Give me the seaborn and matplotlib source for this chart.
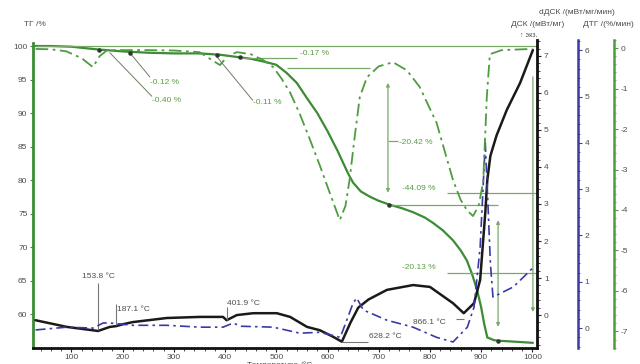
import matplotlib
matplotlib.use("Agg")
import matplotlib.pyplot as plt
import seaborn as sns
from matplotlib.ticker import MultipleLocator

# TG curve, mass in %
tg_temp = [30, 60, 100, 150, 200, 250, 300, 350, 390, 420, 450, 480, 500, 520, 540,
           560, 580, 600, 620, 640, 650, 665, 683, 700, 722, 745, 767, 790, 806, 825,
           845, 860, 872, 882, 892, 900, 906, 912, 925, 937, 960, 1001]
tg_mass = [100.0, 100.0, 99.9, 99.5, 99.2, 99.0, 98.9, 98.9, 98.7, 98.4, 98.1, 97.6,
           97.2, 96.0, 94.5, 92.2, 90.0, 87.3, 84.3, 81.0, 79.6, 78.3, 77.5, 76.9, 76.3,
           75.8, 75.2, 74.4, 73.6, 72.5, 71.0, 69.5, 68.0, 66.0, 63.6, 61.0, 58.5, 56.5,
           56.1, 56.0, 55.9, 55.7]

# DTG curve, %/min
dtg_temp = [30, 60, 90, 120, 142, 155, 170, 200, 250, 300, 350, 375, 390, 405, 423,
            450, 475, 494, 510, 527, 545, 566, 585, 605, 624, 635, 643, 653, 663, 677,
            700, 728, 755, 780, 813, 845, 860, 872, 884, 895, 904, 911, 917, 940, 1000]
dtg_rate = [-0.02, -0.03, -0.08, -0.25, -0.47, -0.2, -0.05, -0.05, -0.05, -0.06, -0.1,
            -0.3, -0.42, -0.2, -0.1, -0.15, -0.3, -0.47, -0.75, -1.1, -1.6, -2.27, -2.9,
            -3.6, -4.25, -3.9, -3.26, -2.2, -1.21, -0.72, -0.45, -0.35, -0.55, -0.96,
            -1.85, -3.26, -3.75, -4.0, -4.15, -3.9, -3.3, -1.2, -0.15, -0.05, -0.02]

# DSC curve, mW/mg
dsc_temp = [30, 91, 152, 175, 187, 200, 220, 286, 351, 396, 403, 423, 455, 501, 527,
            560, 585, 610, 628, 645, 660, 680, 716, 767, 800, 845, 866, 886, 898, 908,
            912, 918, 930, 950, 976, 1001]
dsc_val = [-0.14, -0.32, -0.43, -0.32, -0.3, -0.25, -0.19, -0.08, -0.05, -0.05, -0.14,
           0.0, 0.05, 0.05, -0.05, -0.32, -0.41, -0.58, -0.72, -0.2, 0.2, 0.42, 0.68,
           0.81, 0.76, 0.32, 0.05, 0.32, 0.95, 2.76, 3.65, 4.3, 4.85, 5.54, 6.27, 7.16]

# dDSC curve, mW/mg/min
ddsc_temp = [30, 91, 142, 162, 175, 220, 286, 351, 396, 416, 430, 494, 546, 585, 625,
             650, 657, 670, 716, 767, 813, 845, 873, 886, 898, 904, 908, 912, 918, 923,
             963, 1001]
ddsc_val = [-0.04, 0.02, 0.0, 0.11, 0.11, 0.06, 0.06, 0.02, 0.02, 0.11, 0.04, 0.02,
            -0.11, -0.09, -0.2, 0.54, 0.65, 0.39, 0.17, 0.02, -0.2, -0.3, 0.02, 0.45,
            1.75, 3.1, 4.0, 3.0, 1.4, 0.67, 0.89, 1.3]

temp_ticks = [100, 200, 300, 400, 500, 600, 700, 800, 900, 1000]
tg_ticks = [60, 65, 70, 75, 80, 85, 90, 95, 100]
dsc_ticks = [0, 1, 2, 3, 4, 5, 6, 7]
ddsc_ticks = [0, 1, 2, 3, 4, 5, 6]
dtg_ticks = [0, -1, -2, -3, -4, -5, -6, -7]

sns.set_style("white")
plt.rcParams['font.family'] = ['Liberation Sans', 'DejaVu Sans']
plt.rcParams['axes.unicode_minus'] = False

GREEN = '#3b8c34'
DTG_GREEN = '#4d9c3f'
BLUE = '#3a3aa6'
TXT_GREEN = '#5a9c44'
GRAY = '#4d4d4d'
FS = 6

fig = plt.figure(figsize=(6.4, 3.64), dpi=100)
ax = fig.add_axes([33 / 640, 16 / 364, 504 / 640, 308 / 364])
ax_dsc = ax.twinx()
ax_ddsc = ax.twinx()
ax_dtg = ax.twinx()

sns.lineplot(x=tg_temp, y=tg_mass, ax=ax, color=GREEN, lw=1.6, estimator=None, sort=False)
sns.lineplot(x=dtg_temp, y=dtg_rate, ax=ax_dtg, color=DTG_GREEN, lw=1.3,
             linestyle=(0, (7, 2.5, 1.5, 2.5)), estimator=None, sort=False)
sns.lineplot(x=ddsc_temp, y=ddsc_val, ax=ax_ddsc, color=BLUE, lw=1.2,
             linestyle=(0, (6, 2.5, 1.5, 2.5)), estimator=None, sort=False)
sns.lineplot(x=dsc_temp, y=dsc_val, ax=ax_dsc, color='#1a1a1a', lw=1.8,
             estimator=None, sort=False)

ax.set_xlim(25, 1009)
ax.set_ylim(54.93, 100.9)
ax_dsc.set_ylim(-0.89, 7.43)
ax_ddsc.set_ylim(-0.43, 6.22)
ax_dtg.set_ylim(-7.41, 0.2)

for a in (ax, ax_dsc, ax_ddsc, ax_dtg):
    for s in a.spines.values():
        s.set_visible(False)

ax.spines['left'].set_visible(True)
ax.spines['left'].set_color(GREEN)
ax.spines['left'].set_linewidth(2)
ax.spines['left'].set_bounds(54.93, 100.4)
ax.spines['bottom'].set_visible(True)
ax.spines['bottom'].set_color('#111111')
ax.spines['bottom'].set_linewidth(2)
ax.set_xticks(temp_ticks)
ax.xaxis.set_minor_locator(MultipleLocator(20))
ax.set_yticks(tg_ticks)
ax.tick_params(axis='x', which='major', length=3, width=0.8, labelsize=FS,
               labelcolor=GRAY, pad=1, bottom=True)
ax.tick_params(axis='x', which='minor', length=2, width=0.6, bottom=True)
ax.tick_params(axis='y', length=2, width=0.8, labelsize=FS, labelcolor=GRAY,
               color=GREEN, pad=2, left=True)
ax.set_xlabel('')
ax.set_ylabel('')

ax_dsc.spines['right'].set_visible(True)
ax_dsc.spines['right'].set_color('#111111')
ax_dsc.spines['right'].set_linewidth(2)
ax_dsc.set_yticks(dsc_ticks)
ax_dsc.yaxis.set_minor_locator(MultipleLocator(0.2))
ax_dsc.tick_params(axis='y', which='major', length=3, labelsize=FS, labelcolor=GRAY, pad=2)
ax_dsc.tick_params(axis='y', which='minor', length=2)
ax_dsc.set_ylabel('')

for a, pos, col, ticks in ((ax_ddsc, 1.081, BLUE, ddsc_ticks),
                           (ax_dtg, 1.153, DTG_GREEN, dtg_ticks)):
    a.spines['right'].set_visible(True)
    a.spines['right'].set_position(('axes', pos))
    a.spines['right'].set_color(col)
    a.spines['right'].set_linewidth(1.8)
    a.set_yticks(ticks)
    a.yaxis.set_minor_locator(MultipleLocator(0.2))
    a.tick_params(axis='y', which='major', length=3, color=col, labelsize=FS,
                  labelcolor=GRAY, pad=2)
    a.tick_params(axis='y', which='minor', length=1.5, color=col)
    a.set_ylabel('')

# mass-loss step construction lines (TG axis)
line_kw = dict(color='#7aa86a', lw=0.9)
ax.hlines(100.0, 30, 1009, **line_kw)
ax.hlines(98.2, 430, 540, **line_kw)
ax.hlines(96.7, 521, 683, **line_kw)
ax.hlines(78.1, 833, 1009, **line_kw)
ax.hlines(76.3, 716, 933, **line_kw)
ax.hlines(66.1, 833, 1009, **line_kw)
ax.hlines(85.9, 718, 737, **line_kw)
arrow_kw = dict(arrowstyle='<|-|>', color='#7aa86a', lw=0.9, mutation_scale=5,
                shrinkA=0, shrinkB=0)
ax.annotate('', xy=(718, 94.5), xytext=(718, 78.1), arrowprops=arrow_kw)
ax.annotate('', xy=(933, 74.0), xytext=(933, 58.1), arrowprops=arrow_kw)
ax.annotate('', xy=(1001, 60.3), xytext=(1001, 95.4),
            arrowprops=dict(arrowstyle='-|>', color='#7aa86a', lw=0.9,
                            mutation_scale=5, shrinkA=0, shrinkB=0))
ax.plot([214, 253], [99.0, 95.4], color='#6b7f60', lw=0.7)
ax.plot([175, 257], [99.0, 92.5], color='#6b7f60', lw=0.7)
ax.plot([384, 454], [98.4, 91.9], color='#6b7f60', lw=0.7)
ax.scatter([153, 214, 384, 430, 720, 933], [99.4, 99.0, 98.6, 98.3, 76.3, 56.0],
           s=5, color='#333333', zorder=5)

green_labels = [('-0.12 %', 253, 94.6), ('-0.40 %', 257, 91.9), ('-0.11 %', 454, 91.5),
                ('-0.17 %', 547, 98.9), ('-20.42 %', 740, 85.6), ('-44.09 %', 745, 78.8),
                ('-20.13 %', 745, 66.9)]
for txt, x, y in green_labels:
    ax.text(x, y, txt, fontsize=FS, color=TXT_GREEN, ha='left', va='center')

# peak temperatures (DSC axis)
gray_kw = dict(color='#777777', lw=0.8)
ax_dsc.vlines(152, -0.4, 0.86, **gray_kw)
ax_dsc.vlines(187, -0.27, 0.3, **gray_kw)
ax_dsc.vlines(404, -0.14, 0.22, **gray_kw)
ax_dsc.hlines(-0.73, 628, 679, **gray_kw)
ax_dsc.hlines(-0.1, 850, 866, **gray_kw)
for txt, x, y, ha in (('153.8 °C', 152, 1.03, 'center'), ('187.1 °C', 189, 0.14, 'left'),
                      ('401.9 °C', 404, 0.32, 'left'), ('628.2 °C', 681, -0.59, 'left'),
                      ('866.1 °C', 767, -0.19, 'left')):
    ax_dsc.text(x, y, txt, fontsize=FS, color=GRAY, ha=ha, va='center')

fig.text(24 / 640, 1 - 25 / 364, 'ТГ /%', fontsize=FS, color=GRAY, va='center')
fig.text(577 / 640, 1 - 13 / 364, 'dДСК /(мВт/мг/мин)', fontsize=FS, color=GRAY,
         ha='center', va='center')
fig.text(538 / 640, 1 - 25 / 364, 'ДСК /(мВт/мг)', fontsize=FS, color=GRAY,
         ha='center', va='center')
fig.text(583 / 640, 1 - 25 / 364, 'ДТГ /(%/мин)', fontsize=FS, color=GRAY,
         ha='left', va='center')
fig.text(537 / 640, 1 - 35 / 364, '↑ экз.', fontsize=5, color=GRAY,
         ha='right', va='center')
fig.text(247 / 640, 1 - 361 / 364, 'Температура /°C', fontsize=FS, color=GRAY,
         ha='left', va='top')

fig.savefig('out.png', dpi=100)
